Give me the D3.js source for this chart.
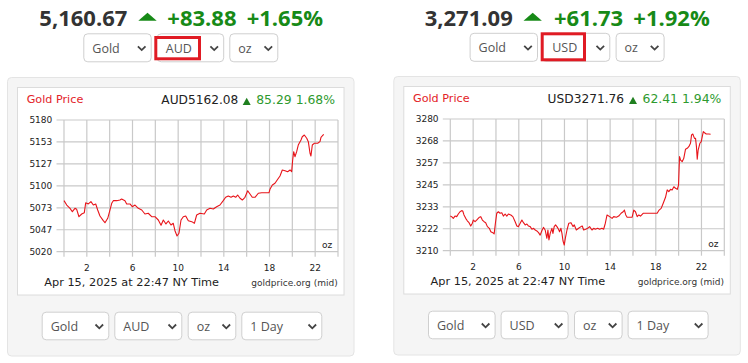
<!DOCTYPE html>
<html><head><meta charset="utf-8">
<script src="https://cdn.jsdelivr.net/npm/d3@7"></script>
<style>body{margin:0;background:#fff}svg{display:block}</style>
</head><body>
<svg id="c" width="748" height="363"></svg>
<script>
// ---------- DATA ----------
const hoursAUD = [0,0.24,0.53,0.73,0.96,1.11,1.31,1.55,1.78,1.90,2.13,2.36,2.57,2.78,2.95,3.15,3.44,3.59,3.83,4.03,4.18,4.32,4.62,4.9,5.05,5.34,5.49,5.78,5.98,6.22,6.51,6.81,7.09,7.38,7.68,7.97,8.26,8.50,8.70,8.93,9.14,9.37,9.57,9.72,9.90,10.07,10.25,10.45,10.66,10.89,11.19,11.42,11.62,11.91,12.29,12.5,12.79,13.08,13.37,13.66,13.95,14.16,14.39,14.63,14.83,15.04,15.21,15.42,15.62,15.85,16.09,16.29,16.49,16.73,17.02,17.32,17.96,18.04,18.25,18.48,18.72,18.92,19.12,19.36,19.59,19.8,19.94,20.03,20.12,20.23,20.38,20.52,20.76,20.87,21.05,21.26,21.40,21.55,21.63,21.75,21.92,22.22,22.42,22.51,22.62,22.75];
const pricesAUD = [5082.0,5076.7,5072.7,5068.6,5072.7,5071.5,5062.5,5065.8,5067.4,5079.5,5078.0,5080.8,5076.7,5078.0,5070.7,5063.4,5057.7,5055.2,5060.6,5070.7,5078.8,5082.0,5082.0,5082.8,5084.0,5082.0,5078.0,5078.0,5074.7,5076.7,5072.7,5070.7,5065.8,5066.7,5062.5,5062.5,5058.5,5052.1,5058.5,5053.7,5057.3,5052.4,5054.5,5045.5,5039.1,5042.4,5058.5,5062.5,5063.4,5057.7,5056.5,5054.5,5064.6,5066.7,5065.8,5070.7,5072.7,5071.9,5074.7,5076.7,5082.0,5086.1,5087.7,5086.1,5087.7,5086.1,5088.9,5084.9,5082.8,5086.1,5094.1,5090.1,5086.1,5086.1,5091.0,5091.7,5091.7,5095.8,5101.0,5103.1,5108.0,5112.0,5119.3,5118.4,5117.2,5119.3,5117.2,5131.4,5141.5,5135.4,5141.5,5149.6,5155.7,5159.7,5161.8,5157.8,5153.7,5139.6,5136.3,5149.6,5151.7,5151.7,5153.7,5159.0,5160.6,5162.6];
const hoursUSD = [0,0.12,0.26,0.41,0.56,0.7,0.85,1.0,1.09,1.2,1.35,1.49,1.64,1.79,1.93,2.02,2.17,2.31,2.55,2.67,2.81,2.96,3.1,3.25,3.42,3.55,3.72,3.84,3.95,4.07,4.21,4.36,4.51,4.65,4.8,4.95,5.09,5.3,5.48,5.68,5.83,5.97,6.12,6.27,6.41,6.56,6.71,6.85,7.0,7.15,7.29,7.44,7.58,7.73,7.87,8.02,8.16,8.31,8.46,8.55,8.64,8.75,8.9,8.99,9.1,9.22,9.34,9.48,9.57,9.69,9.78,9.87,9.98,10.1,10.22,10.38,10.57,10.75,10.86,11.04,11.24,11.45,11.56,11.68,11.86,12.03,12.2,12.41,12.56,12.7,12.91,13.08,13.28,13.43,13.58,13.73,13.96,14.17,14.31,14.55,14.75,14.96,15.14,15.25,15.37,15.49,15.78,15.93,16.07,16.22,16.37,16.51,16.66,16.89,17.24,18.12,18.29,18.47,18.65,18.85,19.0,19.14,19.29,19.43,19.58,19.73,19.88,19.99,20.08,20.17,20.31,20.45,20.6,20.75,20.89,21.04,21.13,21.24,21.39,21.48,21.56,21.63,21.71,21.86,21.98,22.07,22.16,22.27,22.42,22.65,22.8];
const pricesUSD = [3228.4,3228.1,3227.2,3228.4,3228.1,3229.5,3230.7,3231.3,3231.1,3229.0,3227.2,3225.9,3224.9,3223.1,3224.6,3226.3,3225.4,3226.3,3227.8,3228.1,3226.3,3225.4,3224.9,3222.8,3221.9,3220.1,3219.6,3218.9,3224.6,3229.9,3230.7,3229.9,3230.2,3228.4,3229.5,3228.4,3229.5,3229.0,3228.1,3225.4,3223.1,3222.8,3224.6,3226.3,3224.9,3223.7,3224.2,3223.1,3222.8,3221.4,3221.9,3221.0,3220.5,3219.6,3218.3,3220.6,3222.4,3221.0,3216.6,3221.0,3215.7,3219.2,3221.9,3219.2,3222.8,3223.7,3222.8,3221.4,3220.1,3221.9,3219.2,3215.3,3213.0,3217.4,3221.0,3224.6,3224.9,3222.8,3223.7,3221.0,3221.9,3222.8,3223.1,3221.0,3221.4,3221.9,3222.8,3221.0,3221.9,3221.4,3221.9,3221.4,3221.9,3221.4,3224.6,3229.0,3228.1,3227.2,3228.1,3227.8,3228.4,3229.9,3230.7,3231.6,3229.0,3227.8,3227.8,3227.8,3231.6,3230.7,3228.1,3229.0,3228.4,3229.9,3229.9,3229.9,3231.6,3232.5,3235.2,3238.4,3242.3,3241.4,3242.6,3242.3,3244.0,3243.2,3242.6,3244.9,3260.0,3258.2,3257.3,3259.1,3263.9,3264.4,3265.3,3267.1,3271.5,3272.0,3269.7,3269.7,3265.3,3258.6,3263.5,3267.1,3268.0,3270.6,3273.3,3272.7,3272.0,3272.0,3271.9];
const yDomainAUD = [5020, 5180];
const yDomainUSD = [3210, 3280];
const xGridHours = [0,2,4,6,8,10,12,14,16,18,20,22,24];
const xLabelHours = [2,6,10,14,18,22];
const headerPrice = ["5,160.67", "3,271.09"];
const headerChange = ["+83.88", "+61.73"];
const headerPct = ["+1.65%", "+1.92%"];
const chartPrice = ["AUD5162.08", "USD3271.76"];
const chartChange = ["85.29 1.68%", "62.41 1.94%"];
const currencies = ["AUD", "USD"];
const stamp = "Apr 15, 2025 at 22:47 NY Time";

// ---------- DRAW ----------
const svg = d3.select("#c");
const GREEN = "#178a17", GREEN2 = "#2e9a2e", RED = "#e8141a";

function select(g, x, y, w, h, label) {
  const s = g.append("g").attr("transform", `translate(${x},${y})`);
  s.append("rect").attr("x",0.5).attr("y",0.5).attr("width",w-1).attr("height",h-1)
    .attr("rx",4).attr("fill","#fff").attr("stroke","#cfcfcf");
  if (label) s.append("text").attr("x",9).attr("y",h-9.5).text(label)
    .attr("font-family","Open Sans").attr("font-size",12.5).attr("fill","#555");
  const cx = w - 10, cy = h/2 + 0.5;
  s.append("path").attr("d",`M${cx-3.8},${cy-2} L${cx},${cy+1.8} L${cx+3.8},${cy-2}`)
    .attr("fill","none").attr("stroke","#444").attr("stroke-width",1.8);
}

function panel(i, cfg) {
  const dx = cfg.dx, dy = cfg.dy;
  const g = svg.append("g");
  // header
  const hd = g.append("g").attr("font-family","Open Sans").attr("font-weight",700).attr("font-size",22);
  hd.append("text").attr("x",cfg.hx[0]).attr("y",26).attr("fill","#333").text(headerPrice[i]);
  hd.append("path").attr("d",`M${cfg.hx[1]},20.7 L${cfg.hx[1]+9.2},12.7 L${cfg.hx[1]+18.4},20.7 Z`).attr("fill",GREEN);
  hd.append("text").attr("x",cfg.hx[2]).attr("y",26).attr("fill",GREEN).text(headerChange[i]);
  hd.append("text").attr("x",cfg.hx[3]).attr("y",26).attr("fill",GREEN).text(headerPct[i]);
  // top selects
  select(g, 83.3+dx, 33.3+dy*0.5, 68.4, 29, "Gold");
  select(g, 156.7+cfg.cdx, 33.3+dy*0.5, 67.5+cfg.cdw, 29, "");
  select(g, 229.3+dx, 33.3+dy*0.5, 49, 29, "oz");
  // red highlight box with the selected currency
  const rb = cfg.red;
  g.append("rect").attr("x",rb[0]+1.5).attr("y",rb[1]+1.5).attr("width",rb[2]-rb[0]-3).attr("height",rb[3]-rb[1]-3)
    .attr("fill","#fff").attr("stroke","#e01b24").attr("stroke-width",3);
  g.append("text").attr("x",rb[0]+11.5).attr("y",52.6+dy*0.5).text(currencies[i])
    .attr("font-family","Open Sans").attr("font-size",12.5).attr("fill","#555");
  // outer panel
  g.append("rect").attr("x",7.5+dx).attr("y",77.5+dy).attr("width",346.5).attr("height",278.5)
    .attr("rx",4).attr("fill","#f5f5f5").attr("stroke","#e4e4e4");
  g.append("rect").attr("x",17.5+dx).attr("y",87.5+dy).attr("width",326.5).attr("height",207.5)
    .attr("fill","#fff").attr("stroke","#dcdcdc");
  // chart
  const L = 64+dx, R = 338+dx, T = 120+dy, B = 251.7+dy;
  const x = d3.scaleLinear().domain([0,24]).range([L,R]);
  const y = d3.scaleLinear().domain(cfg.yDomain).range([B,T]);
  const yTicks = d3.range(7).map(k => cfg.yDomain[0] + k*(cfg.yDomain[1]-cfg.yDomain[0])/6);
  const fmt = d3.format(".0f");
  const grid = g.append("g").attr("stroke","#c9c9c9").attr("stroke-width",1.2);
  grid.selectAll(".h").data(yTicks).join("line")
    .attr("x1",L-7.5).attr("x2",R).attr("y1",d=>y(d)).attr("y2",d=>y(d));
  grid.selectAll(".v").data(xGridHours).join("line")
    .attr("x1",d=>x(d)).attr("x2",d=>x(d)).attr("y1",T).attr("y2",B+5);
  const tf = g.append("g").attr("font-family","DejaVu Sans").attr("fill","#222");
  tf.selectAll(".yl").data(yTicks).join("text")
    .attr("x",L-11.7).attr("y",d=>y(d)+3.3).attr("text-anchor","end").attr("font-size",9).text(d=>fmt(d));
  tf.selectAll(".xl").data(xLabelHours).join("text")
    .attr("x",d=>x(d)).attr("y",B+19.5).attr("text-anchor","middle").attr("font-size",9).text(d=>d);
  tf.append("text").attr("x",R-5.7).attr("y",B-3.7).attr("text-anchor","end").attr("font-size",9).text("oz");
  // line
  const pts = cfg.hours.map((h,k)=>[h,cfg.prices[k]]);
  g.append("path").datum(pts).attr("fill","none").attr("stroke",RED).attr("stroke-width",1.1)
    .attr("stroke-linejoin","round")
    .attr("d", d3.line().x(d=>x(d[0])).y(d=>y(d[1])));
  // titles
  tf.append("text").attr("x",26.7+dx).attr("y",102.7+dy).attr("font-size",11.2).attr("fill","#e32228").text("Gold Price");
  tf.append("text").attr("x",161.3+dx).attr("y",104.3+dy).attr("font-size",12.2).attr("fill","#222").text(chartPrice[i]);
  tf.append("path").attr("d",`M${242.7+dx},${105+dy} L${246.7+dx},${97.7+dy} L${250.7+dx},${105+dy} Z`).attr("fill","#1f7f1f");
  tf.append("text").attr("x",335+dx).attr("y",104.3+dy).attr("text-anchor","end").attr("font-size",12.4).attr("fill",GREEN2).text(chartChange[i]);
  tf.append("text").attr("x",44.3+dx).attr("y",286+dy).attr("font-size",11.3).text(stamp);
  tf.append("text").attr("x",337.7+dx).attr("y",286.3+dy).attr("text-anchor","end").attr("font-size",9).attr("fill","#333").text("goldprice.org (mid)");
  // bottom selects
  select(g, 41.7+dx, 311.7+dy, 67.6, 28.6, "Gold");
  select(g, 114.3+dx, 311.7+dy, 68, 28.6, currencies[i]);
  select(g, 187.7+dx, 311.7+dy, 48.6, 28.6, "oz");
  select(g, 241.3+dx, 311.7+dy, 81, 28.6, "1 Day");
}

panel(0, {dx:0, dy:0, hx:[39.3,138.3,167.3,246.7], cdx:0, cdw:0,
  red:[154.3,36,201,60.3], yDomain:yDomainAUD, hours:hoursAUD, prices:pricesAUD});
panel(1, {dx:386.3, dy:-1, hx:[424.7,523.5,554,633.3], cdx:384.6, cdw:1.5,
  red:[540.7,32.3,586,61.3], yDomain:yDomainUSD, hours:hoursUSD, prices:pricesUSD});
</script>
</body></html>
